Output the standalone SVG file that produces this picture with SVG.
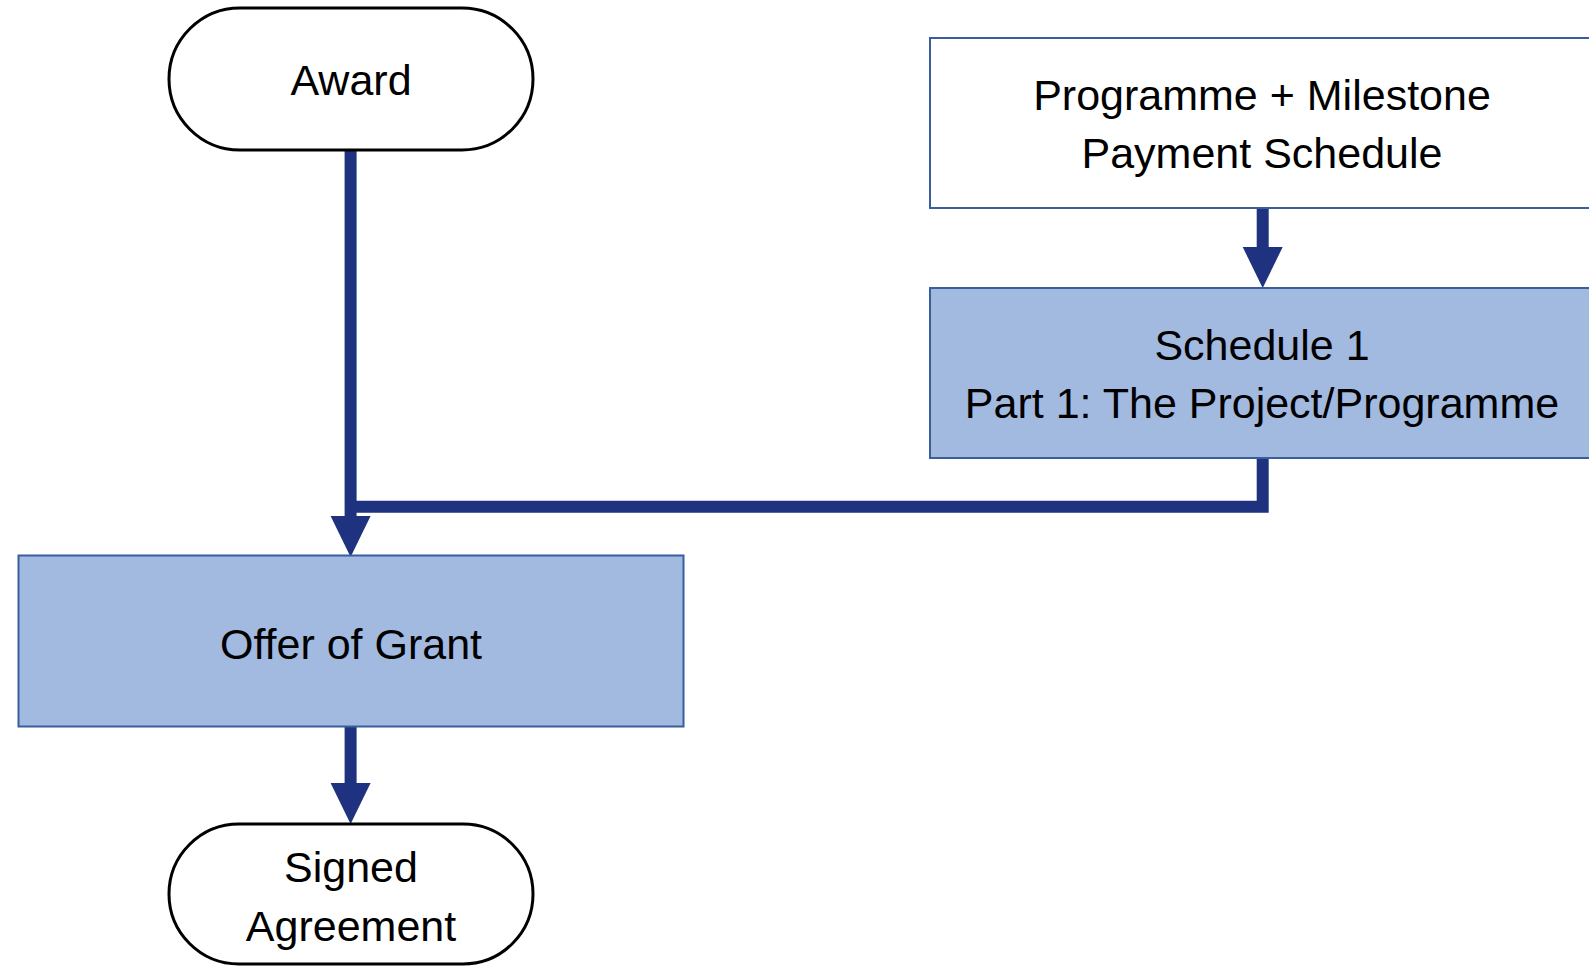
<svg xmlns="http://www.w3.org/2000/svg" width="1589" height="966" viewBox="0 0 1589 966">
  <style>
    .term { fill: #ffffff; stroke: #000000; stroke-width: 3; }
    .box { stroke: #3A5E9C; stroke-width: 2; }
    .white { fill: #ffffff; }
    .blue { fill: #A2B9E0; }
    .lbl { font-family: "Liberation Sans", Arial, sans-serif; font-size: 43px; fill: #000000; text-anchor: middle; }
    .conn { fill: none; stroke: #1F327F; stroke-width: 12; stroke-linejoin: miter; }
  </style>
  <defs>
    <marker id="ah" markerUnits="userSpaceOnUse" markerWidth="42" markerHeight="42" refX="0" refY="20" orient="auto" overflow="visible">
      <path d="M0,0 L41,20 L0,40 Z" fill="#1F327F"/>
    </marker>
  </defs>
  <rect width="1589" height="966" fill="#ffffff"/>

  <g id="connectors">
    <path class="conn" d="M350.6,150 V516" marker-end="url(#ah)"/>
    <path class="conn" d="M1262.7,458 V506.7 H350.6"/>
    <path class="conn" d="M1262.7,208 V247" marker-end="url(#ah)"/>
    <path class="conn" d="M350.6,726 V783" marker-end="url(#ah)"/>
  </g>

  <g id="award">
    <rect class="term" x="169" y="8" width="364" height="142" rx="71" ry="71"/>
    <text class="lbl" x="351" y="95">Award</text>
  </g>

  <g id="programme">
    <rect class="box white" x="930" y="38" width="680" height="170"/>
    <text class="lbl" x="1262" y="110">Programme + Milestone</text>
    <text class="lbl" x="1262" y="168">Payment Schedule</text>
  </g>

  <g id="schedule">
    <rect class="box blue" x="930" y="288" width="680" height="170"/>
    <text class="lbl" x="1262" y="360">Schedule 1</text>
    <text class="lbl" x="1262" y="418">Part 1: The Project/Programme</text>
  </g>

  <g id="offer">
    <rect class="box blue" x="18.5" y="555.5" width="665" height="171"/>
    <text class="lbl" x="351" y="659">Offer of Grant</text>
  </g>

  <g id="signed">
    <rect class="term" x="169" y="824" width="364" height="140" rx="70" ry="70"/>
    <text class="lbl" x="351" y="882">Signed</text>
    <text class="lbl" x="351" y="941">Agreement</text>
  </g>
</svg>
